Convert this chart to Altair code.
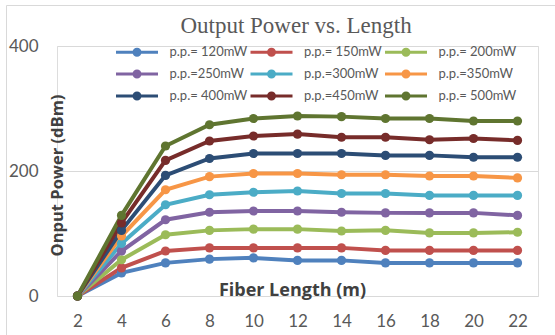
import altair as alt
import pandas as pd

chart_title = ["Output Power vs. Length"]
lengths = [2, 4, 6, 8, 10, 12, 14, 16, 18, 20, 22]
series_labels = ["p.p.= 120mW", "p.p.= 150mW", "p.p.= 200mW",
                 "p.p.=250mW", "p.p.=300mW", "p.p.=350mW",
                 "p.p.= 400mW", "p.p.=450mW", "p.p.= 500mW"]
series_colors = ["#4F81BD", "#C0504D", "#9BBB59", "#8064A2", "#4BACC6",
                 "#F79646", "#2C4D75", "#772C2A", "#5F7530"]

p120 = [0, 37, 53, 59, 61, 57, 57, 53, 53, 53, 53]
p150 = [0, 45, 72, 77, 77, 77, 77, 73, 73, 73, 73]
p200 = [0, 58, 98, 105, 107, 107, 104, 105, 101, 101, 102]
p250 = [0, 72, 122, 134, 136, 136, 134, 133, 133, 133, 129]
p300 = [0, 84, 146, 162, 166, 168, 164, 164, 161, 161, 161]
p350 = [0, 96, 170, 191, 196, 196, 194, 194, 192, 192, 189]
p400 = [0, 105, 193, 220, 228, 228, 228, 225, 225, 222, 222]
p450 = [0, 117, 217, 248, 256, 259, 254, 254, 250, 252, 249]
p500 = [0, 129, 240, 274, 284, 288, 287, 284, 284, 280, 280]

all_series = [p120, p150, p200, p250, p300, p350, p400, p450, p500]

rows = []
for lab, vals in zip(series_labels, all_series):
    for L, v in zip(lengths, vals):
        rows.append({"Length": L, "Power": v, "Series": lab})
df = pd.DataFrame(rows)

FONT = "Lato"
TFONT = "Open Sans"
GREY = "#595959"
# line of +-21px with a small dot, for symbolSize 100 (unit = 5px)
LEGEND_PATH = "M-4.2,0L4.2,0M0.6,0A0.6,0.6,0,1,1,-0.6,0A0.6,0.6,0,1,1,0.6,0Z"

color = alt.Color(
    "Series:N",
    scale=alt.Scale(domain=series_labels, range=series_colors),
    legend=alt.Legend(
        title=None, orient="none", legendX=63, legendY=-0.5, columns=3,
        direction="horizontal",
        symbolType=LEGEND_PATH, symbolSize=100, symbolStrokeWidth=3,
        symbolOpacity=1, symbolOffset=10.5,
        labelFont=FONT, labelFontSize=13, labelColor=GREY, labelOffset=26,
        labelLimit=200, columnPadding=-3.5, rowPadding=3, gridAlign="all",
    ),
)

x = alt.X(
    "Length:Q",
    scale=alt.Scale(domain=[1.068, 22.932], nice=False, zero=False),
    axis=alt.Axis(
        values=lengths, grid=False, ticks=False, tickSize=0, domain=False,
        labelFont=FONT, labelFontSize=17, labelColor=GREY, labelPadding=17,
        title="Fiber Length (m)", titleFont=TFONT, titleFontSize=18,
        titleFontWeight="bold", titleColor="#404040", titleX=235, titleY=-1,
        titleBaseline="alphabetic", titleAlign="center",
    ),
)
y = alt.Y(
    "Power:Q",
    scale=alt.Scale(domain=[0, 400], nice=False),
    axis=alt.Axis(
        values=[0, 200, 400], grid=True, gridColor="#D9D9D9", gridWidth=1,
        ticks=False, tickSize=0, domain=False,
        labelFont=FONT, labelFontSize=17, labelColor=GREY, labelPadding=19,
        title="Onput Power (dBm)", titleFont=TFONT, titleFontSize=16.5,
        titleFontWeight="bold", titleColor="#404040", titleAngle=270,
        titleX=0, titleY=129, titleBaseline="middle", titleAlign="center",
    ),
)

lines = alt.Chart(df).mark_line(
    strokeWidth=4,
    point=alt.OverlayMarkDef(filled=True, size=85, opacity=1),
).encode(x=x, y=y, color=color, detail="Series:N")

border = alt.Chart(alt.Data(values=[{}])).mark_rect(
    fill=None, stroke="#D9D9D9", strokeWidth=1
).encode(
    x=alt.value(-50.5), x2=alt.value(700),
    y=alt.value(-40.5), y2=alt.value(500),
)

title = alt.Chart(alt.Data(values=[{"t": t} for t in chart_title])).mark_text(
    font="Liberation Serif", fontSize=23, color=GREY, align="center",
    baseline="alphabetic",
).encode(text="t:N", x=alt.value(239), y=alt.value(-13))

chart = alt.layer(border, title, lines).properties(
    width=481, height=250,
    autosize=alt.AutoSizeParams(type="none"),
    padding={"left": 57, "top": 46, "right": 17, "bottom": 39},
).configure_view(stroke=None).configure(background="white")

chart.save("out.html", embed_options={"renderer": "svg", "actions": False})
